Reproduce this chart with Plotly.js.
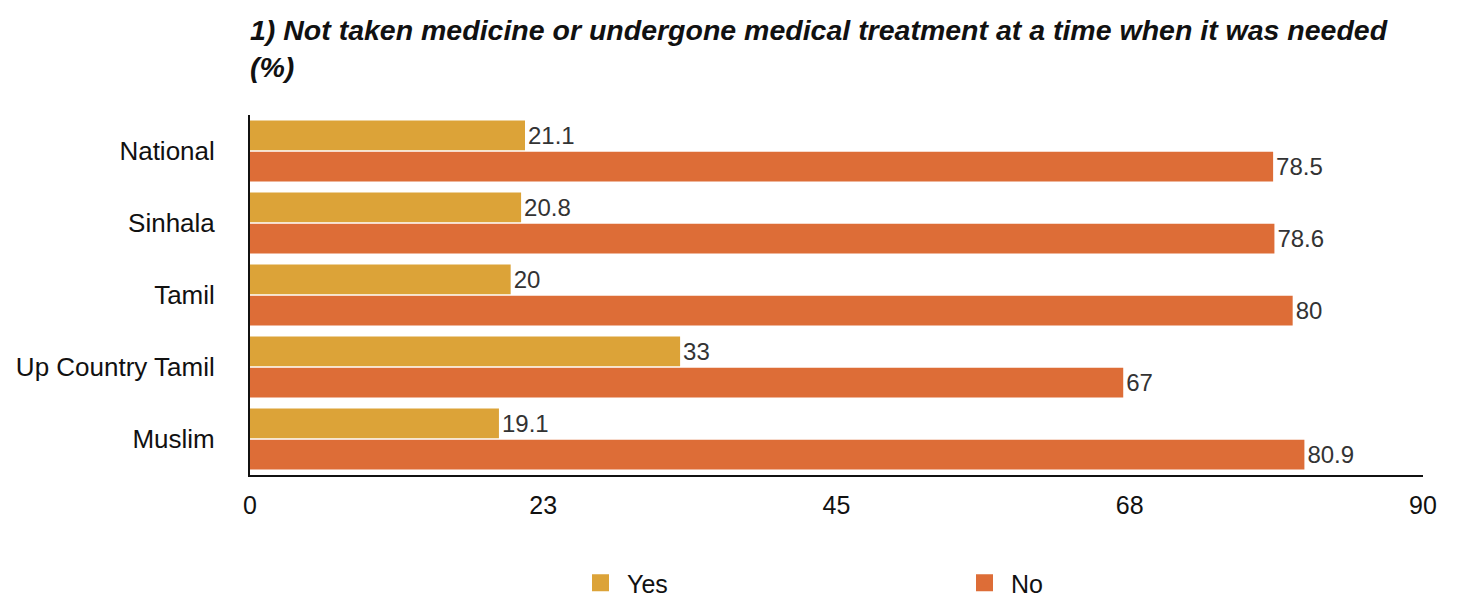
<!DOCTYPE html>
<html>
<head>
<meta charset="utf-8">
<script src="https://cdn.plot.ly/plotly-3.0.1.min.js"></script>
<style>html,body{margin:0;padding:0;background:#fff;}#chart{width:1457px;height:599px;}</style>
</head>
<body>
<div id="chart"></div>
<script>
const categories = ["National", "Sinhala", "Tamil", "Up Country Tamil", "Muslim"];
const yesValues = [21.1, 20.8, 20, 33, 19.1];
const noValues = [78.5, 78.6, 80, 67, 80.9];
const xTickVals = [0, 22.5, 45, 67.5, 90];
const xTickText = ["0", "23", "45", "68", "90"];
const seriesNames = ["Yes", "No"];
const seriesColors = ["#DCA338", "#DD6D37"];
const chartTitle = "1) Not taken medicine or undergone medical treatment at a time when it was needed<br>(%)";

const font = "Liberation Sans, Arial, Helvetica, sans-serif";
const valueSets = [yesValues, noValues];
const traces = valueSets.map((vals, i) => ({
  type: "bar", orientation: "h", name: seriesNames[i], y: categories, x: vals,
  marker: {color: seriesColors[i]}, text: vals.map(String), textposition: "outside",
  textfont: {size: 24, color: "#333", family: font}, cliponaxis: false,
  showlegend: false, legendgroup: seriesNames[i]
}));
// legend-only entries (drawn on a hidden axis pair so they don't take group slots)
seriesNames.forEach((n, i) => traces.push({
  type: "bar", orientation: "h", name: n, x: [null], y: [null], xaxis: "x2", yaxis: "y2",
  marker: {color: seriesColors[i], line: {color: seriesColors[i], width: 6}},
  showlegend: true, legendgroup: n
}));

const layout = {
  width: 1457, height: 599,
  margin: {l: 250, r: 34, t: 115, b: 124},
  paper_bgcolor: "#fff", plot_bgcolor: "#fff",
  font: {family: font, color: "#111"},
  title: {text: chartTitle, xref: "container", x: 250/1457, xanchor: "left",
          yref: "container", y: 1 - 40/599, yanchor: "middle",
          font: {size: 28.5, family: font, weight: "bold", style: "italic", color: "#111"}},
  barmode: "group", bargap: 0.13, bargroupgap: 0.05,
  xaxis: {range: [0, 90], tickvals: xTickVals, ticktext: xTickText, showgrid: false,
          zeroline: false, showline: true, linecolor: "#111", linewidth: 2,
          ticks: "", tickfont: {size: 25, color: "#111"}, ticklabelstandoff: 7},
  yaxis: {autorange: "reversed", showgrid: false, zeroline: false, showline: true,
          linecolor: "#111", linewidth: 2, ticks: "", tickfont: {size: 26, color: "#111"},
          ticklabelstandoff: 28},
  xaxis2: {visible: false, overlaying: "x", range: [0, 1]},
  yaxis2: {visible: false, overlaying: "y", range: [0, 1]},
  showlegend: true,
  legend: {orientation: "h", xref: "container", yref: "container", x: 574/1457, xanchor: "left",
           y: 1 - 583/599, yanchor: "middle", entrywidth: 326, entrywidthmode: "pixels",
           font: {size: 25, color: "#111"}, itemwidth: 43, traceorder: "normal"}
};
Plotly.newPlot("chart", traces, layout, {displayModeBar: false, staticPlot: true});
</script>
</body>
</html>
